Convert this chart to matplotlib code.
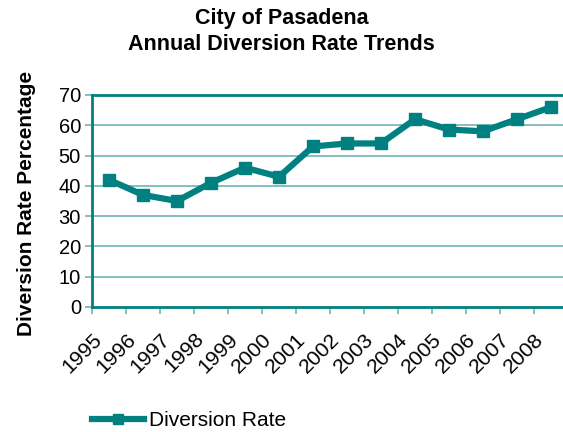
import matplotlib
matplotlib.use("Agg")
import matplotlib.pyplot as plt
from matplotlib.ticker import FixedLocator

years = ["1995", "1996", "1997", "1998", "1999", "2000", "2001",
         "2002", "2003", "2004", "2005", "2006", "2007", "2008"]
rates = [42, 37, 35, 41, 46, 43, 53, 54, 54, 62, 58.6, 58, 62, 66]
yticks = [0, 10, 20, 30, 40, 50, 60, 70]

plt.rcParams['font.family'] = ['Liberation Sans', 'DejaVu Sans']

W, H = 563, 432
fig = plt.figure(figsize=(W / 100, H / 100), dpi=100)
ax = fig.add_axes([92 / W, (H - 307) / H, 476 / W, 212 / H])

teal = '#008080'
grid = '#6fb5b0'
x = list(range(len(years)))
line, = ax.plot(x, rates, color=teal, lw=4.5, marker='s', ms=8.5,
                label='Diversion Rate', solid_joinstyle='miter')

ax.set_xlim(-0.5, len(years) - 0.5)
ax.set_ylim(0, 70)
ax.set_yticks(yticks)
for yv in yticks[1:-1]:
    ax.axhline(yv, color=grid, lw=1.2, zorder=0)

# boundary ticks (unlabelled) and label anchors (no tick mark),
# anchors nudged left so the rotated labels end just left of each category centre
ax.xaxis.set_major_locator(FixedLocator([i - 0.5 for i in range(len(years) + 1)]))
ax.xaxis.set_minor_locator(FixedLocator([i - 0.3 for i in x]))
ax.set_xticklabels([''] * (len(years) + 1))
ax.set_xticklabels(years, minor=True, rotation=45, ha='right', va='center',
                   rotation_mode='anchor', fontsize=15.3)
ax.tick_params(axis='x', which='major', length=5, color=grid, width=1.2)
ax.tick_params(axis='x', which='minor', length=0, pad=21)
ax.tick_params(axis='y', length=5, color=grid, width=1.2, labelsize=14.5, pad=3)

for s in ['left', 'bottom', 'top']:
    ax.spines[s].set_color(teal)
    ax.spines[s].set_linewidth(2)
ax.spines['right'].set_visible(False)

ax.set_ylabel('Diversion Rate Percentage', fontsize=15, fontweight='bold')
ax.yaxis.set_label_coords(-0.118, 0.49)

fig.text(0.5, 1 - 8 / H, 'City of Pasadena\nAnnual Diversion Rate Trends',
         ha='center', va='top', fontsize=15.5, fontweight='bold', linespacing=1.3)

fig.legend(handles=[line], loc='center left', bbox_to_anchor=(73 / W, 1 - 421 / H),
           frameon=False, fontsize=15, handlelength=2.5, handletextpad=0.25,
           markerscale=0.8)

fig.savefig('out.png', dpi=100)
